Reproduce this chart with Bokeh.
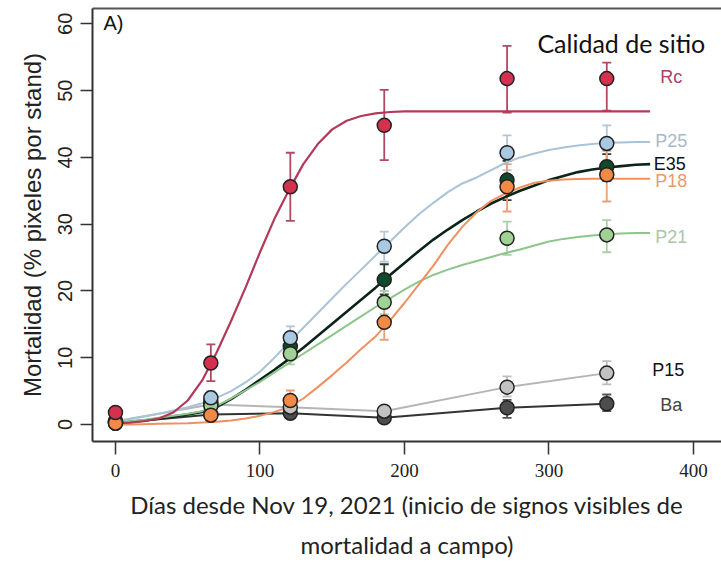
from bokeh.plotting import figure
from bokeh.models import ColumnDataSource, Whisker, TeeHead, LinearAxis, FixedTicker, Range1d
from bokeh.core.properties import value
from bokeh.embed import file_html
from bokeh.resources import INLINE

# ---- data ----
days = [0, 66, 121, 186, 271, 340]
curve_days = list(range(0, 380, 10))

rc_y = [1.8, 9.2, 35.6, 44.8, 51.8, 51.8]
rc_lo = [1.4, 6.5, 30.5, 39.6, 46.7, 47.0]
rc_hi = [2.2, 12.0, 40.7, 50.1, 56.7, 54.2]
rc_fit = [0.2, 0.3, 0.5, 0.9, 1.8, 3.6, 6.6, 10.8, 15.5, 20.5, 25.8, 30.8, 35.1, 39.0,
          42.0, 44.2, 45.5, 46.2, 46.6, 46.8, 46.9, 46.9, 46.9, 46.9, 46.9, 46.9, 46.9,
          46.9, 46.9, 46.9, 46.9, 46.9, 46.9, 46.9, 46.9, 46.9, 46.9, 46.9]

p25_y = [0.5, 4.0, 13.0, 26.7, 40.7, 42.1]
p25_lo = [0.2, 3.0, 11.5, 24.4, 38.1, 39.5]
p25_hi = [0.8, 5.0, 14.7, 28.9, 43.3, 44.8]
p25_fit = [0.5, 0.8, 1.2, 1.6, 2.1, 2.6, 3.2, 4.0, 5.0, 6.3, 7.9, 10.0, 12.3, 14.5,
           16.7, 18.9, 21.1, 23.2, 25.3, 27.4, 29.5, 31.5, 33.2, 34.8, 36.1, 37.0, 38.1,
           39.2, 40.0, 40.6, 41.1, 41.5, 41.8, 42.0, 42.2, 42.25, 42.3, 42.3]

e35_y = [0.3, 3.5, 11.7, 21.7, 36.6, 38.6]
e35_lo = [0.0, 2.5, 10.5, 19.5, 33.6, 36.5]
e35_hi = [0.6, 4.5, 13.0, 24.0, 39.5, 40.5]
e35_fit = [0.2, 0.4, 0.6, 0.9, 1.2, 1.5, 1.9, 2.6, 3.8, 5.2, 6.7, 8.2, 9.8, 11.5,
           13.3, 15.1, 16.9, 18.7, 20.5, 22.4, 24.2, 26.0, 27.7, 29.2, 30.6, 31.9, 33.1,
           34.1, 35.0, 35.8, 36.6, 37.2, 37.8, 38.2, 38.5, 38.7, 38.9, 39.0]

p18_y = [0.2, 1.4, 3.6, 15.3, 35.6, 37.4]
p18_lo = [0.0, 1.0, 2.5, 12.7, 31.9, 33.4]
p18_hi = [0.4, 1.8, 5.1, 17.8, 39.0, 41.0]
p18_fit = [0.0, 0.0, 0.05, 0.1, 0.15, 0.2, 0.3, 0.4, 0.6, 0.9, 1.3, 1.9, 2.6, 3.9,
           5.6, 7.4, 9.3, 11.3, 13.2, 15.6, 18.2, 21.0, 23.8, 26.9, 29.6, 31.8, 33.5,
           34.6, 35.5, 36.2, 36.5, 36.7, 36.75, 36.8, 36.8, 36.8, 36.8, 36.8]

p21_y = [0.3, 2.8, 10.6, 18.3, 27.9, 28.4]
p21_lo = [0.0, 2.2, 9.0, 16.5, 25.4, 25.8]
p21_hi = [0.6, 3.4, 12.2, 20.0, 30.4, 30.6]
p21_fit = [0.3, 0.5, 0.7, 1.0, 1.3, 1.6, 2.0, 2.8, 3.9, 5.1, 6.4, 7.8, 9.2, 10.6,
           12.0, 13.4, 14.8, 16.2, 17.6, 18.9, 20.2, 21.4, 22.4, 23.2, 23.9, 24.5, 25.1,
           25.7, 26.2, 26.8, 27.4, 27.8, 28.1, 28.3, 28.5, 28.6, 28.7, 28.7]

p15_y = [0.5, 3.0, 2.6, 2.0, 5.6, 7.7]
p15_lo = [0.2, 2.5, 2.0, 1.5, 4.2, 6.0]
p15_hi = [0.8, 3.5, 3.2, 2.6, 7.2, 9.5]

ba_y = [0.2, 1.5, 1.7, 1.0, 2.5, 3.1]
ba_lo = [0.0, 1.2, 1.2, 0.5, 1.0, 2.0]
ba_hi = [0.4, 1.8, 2.2, 1.5, 3.7, 4.5]

labels = ["Rc", "P25", "E35", "P18", "P21", "P15", "Ba"]
label_y = [52.0, 42.4, 39.0, 36.5, 28.1, 8.2, 2.9]
label_x = [377, 373.5, 372.5, 373.5, 373.5, 371.5, 377]

# ---- figure ----
p = figure(width=721, height=562, output_backend="svg", toolbar_location=None,
           x_range=Range1d(-15.9, 419.4), y_range=Range1d(-2.54, 62.3),
           min_border_left=92, min_border_right=0, min_border_top=8, min_border_bottom=120)
p.outline_line_color = None
p.xgrid.grid_line_color = None
p.ygrid.grid_line_color = None
p.background_fill_color = "white"

xa = p.below[0]
ya = p.left[0]

# top border
top = LinearAxis(ticker=FixedTicker(ticks=[]), axis_line_color="#555555", axis_line_width=2,
                 major_tick_line_color=None, minor_tick_line_color=None,
                 major_label_text_font_size="0px", major_tick_out=0, major_tick_in=0,
                 major_label_standoff=0)
p.add_layout(top, "above")

xa.ticker = FixedTicker(ticks=[0, 100, 200, 300, 400])
xa.axis_line_color = "#333333"
xa.axis_line_width = 2
xa.major_tick_line_color = "#333333"
xa.major_tick_line_width = 1.5
xa.major_tick_in = 0
xa.major_tick_out = 13
xa.minor_tick_line_color = None
xa.major_label_text_font = "Liberation Sans Narrow"
xa.major_label_text_font_size = "19px"
xa.major_label_text_color = "#222222"
xa.major_label_standoff = 9
xa.axis_label = "Días desde Nov 19, 2021 (inicio de signos visibles de\nmortalidad a campo)"
xa.axis_label_text_font = "Lato"
xa.axis_label_text_font_size = "24px"
xa.axis_label_text_font_style = "normal"
xa.axis_label_text_color = "#222222"
xa.axis_label_text_line_height = 1.4
xa.axis_label_standoff = 10

ya.ticker = FixedTicker(ticks=[0, 10, 20, 30, 40, 50, 60])
ya.axis_line_color = "#333333"
ya.axis_line_width = 2
ya.major_tick_line_color = "#333333"
ya.major_tick_line_width = 1.5
ya.major_tick_in = 0
ya.major_tick_out = 12
ya.minor_tick_line_color = None
ya.major_label_orientation = "vertical"
ya.major_label_text_font = "Liberation Sans"
ya.major_label_text_font_size = "20px"
ya.major_label_text_color = "#222222"
ya.major_label_standoff = 8
ya.axis_label = "Mortalidad (% pixeles por stand)"
ya.axis_label_text_font = "Liberation Sans"
ya.axis_label_text_font_size = "24px"
ya.axis_label_text_font_style = "normal"
ya.axis_label_text_color = "#222222"
ya.axis_label_standoff = 10

# styles: name -> (point fill, line colour, whisker colour, label colour, line width)
style = {
    "Rc": ("#d4314f", "#b23a58", "#b04a62", "#a84262", 2.2),
    "P25": ("#a9c9e3", "#a9c3d8", "#b3c6d6", "#a7b9cb", 2.0),
    "E35": ("#0e4a2b", "#0b2418", "#2c3a30", "#111111", 2.6),
    "P18": ("#f28a46", "#ee9160", "#e8a07a", "#eb9a6c", 2.0),
    "P21": ("#9fd294", "#8cc68c", "#a8cfa8", "#a9c6a9", 2.0),
    "P15": ("#c2c2c2", "#b5b5b5", "#bdbdbd", "#111111", 2.0),
    "Ba": ("#4d4d4d", "#333333", "#555555", "#444444", 2.0),
}

fits = {"Rc": rc_fit, "P25": p25_fit, "E35": e35_fit, "P18": p18_fit, "P21": p21_fit}
pts = {
    "Rc": (rc_y, rc_lo, rc_hi), "P25": (p25_y, p25_lo, p25_hi), "E35": (e35_y, e35_lo, e35_hi),
    "P18": (p18_y, p18_lo, p18_hi), "P21": (p21_y, p21_lo, p21_hi),
    "P15": (p15_y, p15_lo, p15_hi), "Ba": (ba_y, ba_lo, ba_hi),
}

draw_order = ["Ba", "P15", "E35", "P21", "P25", "P18", "Rc"]

# lines
for name in draw_order:
    fill, lc, wc, tc, lw = style[name]
    if name in fits:
        p.line(curve_days, fits[name], line_color=lc, line_width=lw, line_join="round")
    else:
        p.line(days, pts[name][0], line_color=lc, line_width=lw, line_join="round")

# error bars and points
for name in draw_order:
    fill, lc, wc, tc, lw = style[name]
    y, lo, hi = pts[name]
    src = ColumnDataSource(dict(x=days, y=y, lo=lo, hi=hi))
    w = Whisker(source=src, base="x", lower="lo", upper="hi", line_color=wc, line_width=1.8,
                upper_head=TeeHead(size=9, line_color=wc, line_width=1.8),
                lower_head=TeeHead(size=9, line_color=wc, line_width=1.8))
    p.add_layout(w)
    p.scatter("x", "y", source=src, size=14, fill_color=fill, line_color="#222222",
              line_width=1.5)

# series labels
for name, lx, ly in zip(labels, label_x, label_y):
    p.text([lx], [ly], text=[name], text_font=value("Liberation Sans"), text_font_size="18px",
           text_color=style[name][3], text_align="left", text_baseline="middle")

p.text([-8.3], [60.2], text=["A)"], text_font=value("Liberation Sans"), text_font_size="20px",
       text_color="#111111", text_align="left", text_baseline="middle")
p.text([292.0], [57.2], text=["Calidad de sitio"], text_font=value("Lato"), text_font_size="25px",
       text_color="#111111", text_align="left", text_baseline="middle")

open("out.html", "w").write(file_html(p, INLINE))
